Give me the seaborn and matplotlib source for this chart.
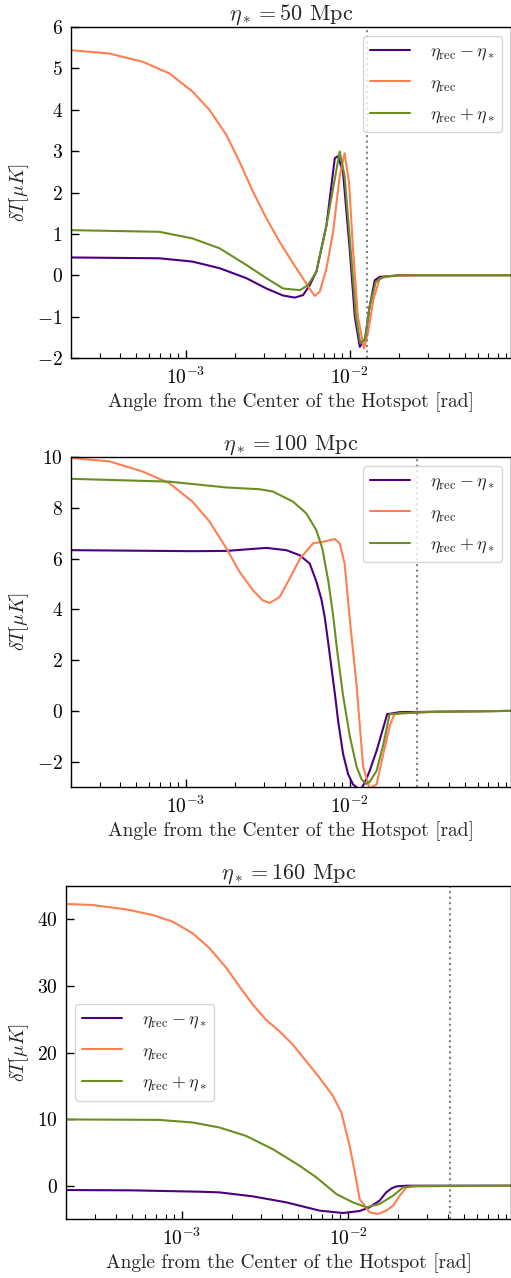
import matplotlib
matplotlib.use("Agg")
import matplotlib.pyplot as plt
import seaborn as sns
import pandas as pd

# ---------------- data ----------------
titles = [r"$\eta_* = 50$ Mpc", r"$\eta_* = 100$ Mpc", r"$\eta_* = 160$ Mpc"]
series_labels = [r"$\eta_{\rm rec} - \eta_*$", r"$\eta_{\rm rec}$", r"$\eta_{\rm rec} + \eta_*$"]
series_colors = ["#4B0082", "#FF7F50", "#6B8E23"]
vlines = [0.0128, 0.0258, 0.0413]
ylims = [(-2, 6), (-3, 10), (-5, 45)]
yticks = [[-2, -1, 0, 1, 2, 3, 4, 5, 6], [-2, 0, 2, 4, 6, 8, 10], [0, 10, 20, 30, 40]]
legend_locs = ["upper right", "upper right", "center left"]

# panel 1 (eta_* = 50 Mpc)
p1_minus_x = [2.0e-4, 6.91e-4, 1.10e-3, 1.61e-3, 2.34e-3, 3.10e-3, 3.92e-3, 4.62e-3, 5.19e-3, 5.70e-3,
              6.26e-3, 7.21e-3, 8.10e-3, 8.49e-3, 9.1e-3, 1.0e-2, 1.073e-2, 1.15e-2, 1.24e-2, 1.32e-2,
              1.42e-2, 1.52e-2, 2.02e-2, 0.1]
p1_minus_y = [0.43, 0.41, 0.33, 0.17, -0.07, -0.32, -0.49, -0.54, -0.48, -0.24,
              0.09, 1.21, 2.83, 2.88, 2.47, 0.6, -1.0, -1.73, -1.53, -0.76,
              -0.12, -0.04, 0.0, 0.0]
p1_rec_x = [2.0e-4, 3.42e-4, 5.46e-4, 7.94e-4, 1.10e-3, 1.40e-3, 1.77e-3, 2.13e-3, 2.57e-3, 3.10e-3,
            3.73e-3, 4.51e-3, 5.43e-3, 6.10e-3, 6.56e-3, 7.21e-3, 7.91e-3, 8.69e-3, 9.3e-3, 9.9e-3,
            1.047e-2, 1.12e-2, 1.22e-2, 1.29e-2, 1.39e-2, 1.52e-2, 1.75e-2, 2.55e-2, 0.1]
p1_rec_y = [5.44, 5.36, 5.16, 4.88, 4.44, 3.99, 3.39, 2.74, 2.02, 1.38,
            0.81, 0.29, -0.2, -0.5, -0.4, 0.17, 1.05, 2.42, 2.95, 2.23,
            0.6, -1.0, -1.77, -1.4, -0.6, -0.08, -0.02, 0.0, 0.0]
p1_plus_x = [2.0e-4, 6.91e-4, 1.10e-3, 1.61e-3, 2.34e-3, 3.10e-3, 3.92e-3, 4.97e-3, 5.56e-3, 6.26e-3,
             7.21e-3, 8.68e-3, 9.3e-3, 1.024e-2, 1.09e-2, 1.16e-2, 1.24e-2, 1.32e-2, 1.44e-2, 1.6e-2,
             2.02e-2, 0.1]
p1_plus_y = [1.09, 1.05, 0.89, 0.65, 0.25, -0.07, -0.32, -0.36, -0.24, 0.09,
             1.21, 2.99, 2.39, 0.37, -1.0, -1.65, -1.53, -0.76, -0.16, -0.04,
             0.0, 0.0]

# panel 2 (eta_* = 100 Mpc)
p2_minus_x = [2.0e-4, 1.10e-3, 1.77e-3, 3.10e-3, 4.10e-3, 4.95e-3, 5.70e-3, 6.25e-3, 6.71e-3, 7.03e-3,
              7.38e-3, 7.73e-3, 8.10e-3, 8.49e-3, 9.10e-3, 9.77e-3, 1.047e-2, 1.12e-2, 1.18e-2, 1.26e-2,
              1.32e-2, 1.455e-2, 1.6e-2, 1.69e-2, 2.02e-2, 0.1]
p2_minus_y = [6.33, 6.29, 6.3, 6.42, 6.33, 6.13, 5.8, 5.1, 4.4, 3.7,
              2.7, 1.7, 0.7, -0.4, -1.7, -2.5, -2.9, -3.05, -3.05, -2.7,
              -2.37, -1.58, -0.66, -0.13, -0.05, 0.0]
p2_rec_x = [2.0e-4, 3.42e-4, 5.46e-4, 7.94e-4, 1.10e-3, 1.40e-3, 1.77e-3, 2.13e-3, 2.57e-3, 2.95e-3,
            3.25e-3, 3.73e-3, 4.30e-3, 4.97e-3, 5.97e-3, 6.87e-3, 8.10e-3, 8.68e-3, 9.3e-3, 1.0e-2,
            1.1e-2, 1.205e-2, 1.32e-2, 1.455e-2, 1.6e-2, 1.75e-2, 1.86e-2, 2.02e-2, 3.23e-2, 0.1]
p2_rec_y = [9.96, 9.83, 9.43, 8.97, 8.24, 7.45, 6.4, 5.47, 4.75, 4.35,
            4.25, 4.48, 5.21, 6.0, 6.6, 6.66, 6.77, 6.6, 5.8, 3.6,
            1.0, -2.2, -3.05, -2.9, -1.7, -0.6, -0.15, -0.1, -0.04, 0.0]
p2_plus_x = [2.0e-4, 7.94e-4, 1.77e-3, 2.82e-3, 3.40e-3, 4.51e-3, 5.43e-3, 6.25e-3, 6.80e-3, 7.40e-3,
             7.90e-3, 8.40e-3, 9.10e-3, 1.0e-2, 1.1e-2, 1.18e-2, 1.26e-2, 1.32e-2, 1.455e-2, 1.6e-2,
             1.75e-2, 2.02e-2, 3.23e-2, 0.1]
p2_plus_y = [9.14, 9.03, 8.8, 8.73, 8.64, 8.24, 7.78, 7.12, 6.4, 5.1,
             3.8, 2.3, 0.6, -1.0, -2.2, -2.7, -2.88, -2.8, -2.37, -1.32,
             -0.13, -0.1, -0.04, 0.0]

# panel 3 (eta_* = 160 Mpc)
p3_minus_x = [2.0e-4, 5.03e-4, 8.0e-4, 1.27e-3, 1.68e-3, 2.67e-3, 4.25e-3, 6.74e-3, 9.33e-3, 1.175e-2,
              1.35e-2, 1.55e-2, 1.70e-2, 1.83e-2, 1.96e-2, 2.25e-2, 0.1]
p3_minus_y = [-0.65, -0.7, -0.8, -0.9, -1.0, -1.6, -2.5, -3.74, -4.1, -3.8,
              -3.24, -2.24, -1.0, -0.4, -0.1, 0.0, 0.0]
p3_rec_x = [2.0e-4, 2.88e-4, 4.59e-4, 6.66e-4, 8.78e-4, 1.16e-3, 1.46e-3, 1.85e-3, 2.22e-3, 2.67e-3,
            3.21e-3, 3.86e-3, 4.65e-3, 5.60e-3, 6.74e-3, 8.11e-3, 9.12e-3, 1.023e-2, 1.10e-2, 1.175e-2,
            1.35e-2, 1.52e-2, 1.70e-2, 1.87e-2, 2.05e-2, 2.25e-2, 2.58e-2, 0.1]
p3_rec_y = [42.3, 42.15, 41.5, 40.65, 39.65, 37.9, 35.7, 32.7, 29.9, 27.2,
            24.9, 23.2, 21.2, 18.7, 16.2, 13.5, 11.0, 6.0, 2.0, -2.0,
            -4.0, -4.24, -3.74, -3.0, -1.5, -0.25, -0.1, 0.0]
p3_plus_x = [2.0e-4, 7.3e-4, 1.16e-3, 1.68e-3, 2.43e-3, 3.52e-3, 5.11e-3, 6.44e-3, 8.51e-3, 1.07e-2,
             1.29e-2, 1.55e-2, 1.87e-2, 2.15e-2, 2.47e-2, 0.1]
p3_plus_y = [9.95, 9.88, 9.49, 8.74, 7.48, 5.49, 3.0, 1.26, -1.25, -2.5,
             -3.24, -2.74, -1.5, -0.25, -0.05, 0.0]

panels = [
    [(p1_minus_x, p1_minus_y), (p1_rec_x, p1_rec_y), (p1_plus_x, p1_plus_y)],
    [(p2_minus_x, p2_minus_y), (p2_rec_x, p2_rec_y), (p2_plus_x, p2_plus_y)],
    [(p3_minus_x, p3_minus_y), (p3_rec_x, p3_rec_y), (p3_plus_x, p3_plus_y)],
]

# ---------------- style ----------------
sns.set_style("ticks")
plt.rcParams["font.family"] = "serif"
plt.rcParams["font.serif"] = ["cmr10", "DejaVu Serif"]
plt.rcParams["mathtext.fontset"] = "cm"
plt.rcParams["axes.formatter.use_mathtext"] = True
plt.rcParams["axes.unicode_minus"] = True

fig = plt.figure(figsize=(5.11, 12.78), dpi=100)
W, H = 511.0, 1278.0
boxes = [(71, 27, 358), (71, 457, 787), (66, 886, 1219)]

for i, (left, top, bottom) in enumerate(boxes):
    ax = fig.add_axes([left / W, 1 - bottom / H, (W - left) / W, (bottom - top) / H])
    ax.set_xscale("log")
    for (xs, ys), lab, col in zip(panels[i], series_labels, series_colors):
        df = pd.DataFrame({"theta": xs, "dT": ys})
        sns.lineplot(data=df, x="theta", y="dT", ax=ax, color=col, label=lab,
                     linewidth=1.5, estimator=None, sort=False)
    ax.axvline(vlines[i], color="gray", linestyle=":", linewidth=1.5)
    ax.set_xlim(2e-4, 0.096)
    ax.set_ylim(*ylims[i])
    ax.set_yticks(yticks[i])
    ax.set_title(titles[i], fontsize=16, pad=5)
    ax.set_xlabel("Angle from the Center of the Hotspot [rad]", fontsize=14, labelpad=3)
    ax.set_ylabel(r"$\delta T [\mu K]$", fontsize=14, labelpad=4)
    ax.tick_params(axis="both", which="both", direction="in", labelsize=14,
                   bottom=True, left=True, top=False, right=False, colors="black")
    ax.tick_params(axis="both", which="major", length=6, width=1, pad=6)
    ax.tick_params(axis="x", which="minor", length=3.5, width=0.8)
    ax.tick_params(axis="y", which="minor", left=False)
    for s in ax.spines.values():
        s.set_color("black")
        s.set_linewidth(1.0)
    ax.legend(loc=legend_locs[i], fontsize=13, handlelength=2.2, handletextpad=1.1,
              labelspacing=0.7, framealpha=0.8, edgecolor="0.8", fancybox=True)

fig.savefig("out.png", dpi=100)
